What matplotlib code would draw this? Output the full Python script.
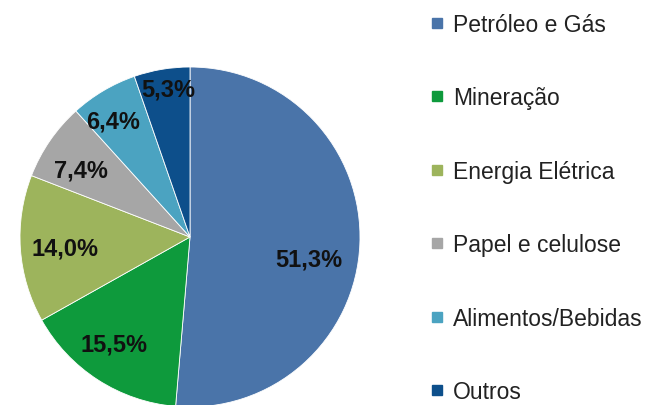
import numpy as np
import matplotlib.pyplot as plt
from matplotlib.lines import Line2D

plt.rcParams['font.family'] = ['Liberation Sans', 'DejaVu Sans']

# Participação por setor (%)
setores = ['Petróleo e Gás', 'Mineração', 'Energia Elétrica',
           'Papel e celulose', 'Alimentos/Bebidas', 'Outros']
valores = [51.3, 15.5, 14.0, 7.4, 6.4, 5.3]
cores = ['#4a74a9', '#0e9a3c', '#9db45c', '#a6a6a6', '#4ba3c1', '#0d4f8b']

fig = plt.figure(figsize=(6.48, 4.06), dpi=100)
# pizza com centro em (190, 238) px e raio de 170 px
ax = fig.add_axes([20 / 648, -2 / 406, 340 / 648, 340 / 406])

wedges, _ = ax.pie(valores, colors=cores, startangle=90, counterclock=False,
                   radius=1,
                   wedgeprops=dict(edgecolor='white', linewidth=0.6))
ax.set_xlim(-1, 1)
ax.set_ylim(-1, 1)
ax.set_aspect('equal')

# posição dos rótulos: raio relativo e ajuste de ângulo
raios = [0.71, 0.77, 0.74, 0.75, 0.82, 0.88]
desvios = [-8, -2.5, 1, 3, 3, -1]
for w, v, r, d in zip(wedges, valores, raios, desvios):
    ang = np.deg2rad((w.theta1 + w.theta2) / 2 + d)
    ax.text(r * np.cos(ang), r * np.sin(ang), f'{v:.1f}%'.replace('.', ','),
            ha='center', va='center', fontsize=17, fontweight='bold',
            color='#111111')

handles = [Line2D([], [], marker='s', linestyle='none', markersize=7,
                  markerfacecolor=c, markeredgecolor=c) for c in cores]
fig.legend(handles, setores, loc='upper left',
           bbox_to_anchor=(425.5 / 648, 1 - 14 / 406),
           frameon=False, fontsize=16.5, labelspacing=2.2, handletextpad=0.2,
           handlelength=1.0, borderaxespad=0, borderpad=0,
           labelcolor='#222222')

fig.savefig('out.png', dpi=100)
